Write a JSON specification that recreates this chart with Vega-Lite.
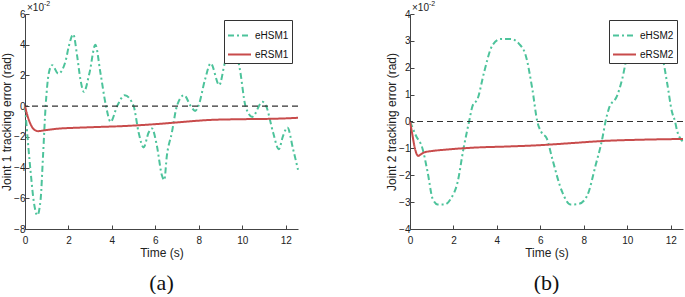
{
  "$schema": "https://vega.github.io/schema/vega-lite/v6.json",
  "padding": {"left": 0, "top": 0, "right": 0, "bottom": 0},
  "background": "white",
  "spacing": 83,
  "config": {
    "font": "Liberation Sans",
    "view": {"stroke": null},
    "axis": {
      "grid": false,
      "domainColor": "#444",
      "tickColor": "#444",
      "tickSize": -4,
      "labelFont": "Liberation Sans",
      "labelFontSize": 10,
      "labelColor": "#222",
      "labelOverlap": false,
      "labelFlush": false,
      "titleFont": "Liberation Sans",
      "titleFontSize": 12,
      "titleFontWeight": "normal",
      "titleColor": "#222"
    },
    "legend": {
      "orient": "top-right",
      "offset": 6,
      "strokeColor": "#333",
      "fillColor": "white",
      "padding": 3,
      "symbolType": "stroke",
      "symbolSize": 529,
      "symbolStrokeWidth": 2,
      "labelFont": "Liberation Sans",
      "labelFontSize": 10,
      "labelColor": "#111",
      "labelOffset": 3,
      "rowPadding": 1,
      "title": null
    },
    "title": {"font": "Liberation Serif", "fontSize": 22, "fontWeight": "normal", "color": "#111"}
  },
  "datasets": {
    "j1": [
      {"t": 0, "v": 0, "s": "eHSM1"},
      {"t": 0.06, "v": -1.06, "s": "eHSM1"},
      {"t": 0.26, "v": -4.3, "s": "eHSM1"},
      {"t": 0.41, "v": -6.27, "s": "eHSM1"},
      {"t": 0.57, "v": -7.1, "s": "eHSM1"},
      {"t": 0.72, "v": -6.05, "s": "eHSM1"},
      {"t": 0.83, "v": -3.23, "s": "eHSM1"},
      {"t": 0.95, "v": 0, "s": "eHSM1"},
      {"t": 1.1, "v": 2.18, "s": "eHSM1"},
      {"t": 1.25, "v": 2.67, "s": "eHSM1"},
      {"t": 1.53, "v": 2.12, "s": "eHSM1"},
      {"t": 1.87, "v": 2.95, "s": "eHSM1"},
      {"t": 2.02, "v": 3.92, "s": "eHSM1"},
      {"t": 2.22, "v": 4.68, "s": "eHSM1"},
      {"t": 2.4, "v": 3.27, "s": "eHSM1"},
      {"t": 2.55, "v": 1.75, "s": "eHSM1"},
      {"t": 2.71, "v": 0.93, "s": "eHSM1"},
      {"t": 2.97, "v": 2.18, "s": "eHSM1"},
      {"t": 3.24, "v": 3.99, "s": "eHSM1"},
      {"t": 3.47, "v": 2.18, "s": "eHSM1"},
      {"t": 3.73, "v": 0, "s": "eHSM1"},
      {"t": 3.94, "v": -1.02, "s": "eHSM1"},
      {"t": 4.24, "v": 0, "s": "eHSM1"},
      {"t": 4.59, "v": 0.71, "s": "eHSM1"},
      {"t": 5.0, "v": 0, "s": "eHSM1"},
      {"t": 5.23, "v": -1.72, "s": "eHSM1"},
      {"t": 5.46, "v": -2.69, "s": "eHSM1"},
      {"t": 5.69, "v": -1.72, "s": "eHSM1"},
      {"t": 5.84, "v": -1.45, "s": "eHSM1"},
      {"t": 6.07, "v": -2.58, "s": "eHSM1"},
      {"t": 6.3, "v": -4.5, "s": "eHSM1"},
      {"t": 6.41, "v": -4.81, "s": "eHSM1"},
      {"t": 6.53, "v": -3.23, "s": "eHSM1"},
      {"t": 6.76, "v": -1.72, "s": "eHSM1"},
      {"t": 6.99, "v": 0, "s": "eHSM1"},
      {"t": 7.32, "v": 0.71, "s": "eHSM1"},
      {"t": 7.63, "v": 0, "s": "eHSM1"},
      {"t": 7.83, "v": -0.31, "s": "eHSM1"},
      {"t": 7.98, "v": 0, "s": "eHSM1"},
      {"t": 8.29, "v": 1.75, "s": "eHSM1"},
      {"t": 8.55, "v": 2.79, "s": "eHSM1"},
      {"t": 8.94, "v": 1.37, "s": "eHSM1"},
      {"t": 9.2, "v": 2.83, "s": "eHSM1"},
      {"t": 9.55, "v": 4.1, "s": "eHSM1"},
      {"t": 9.89, "v": 2.4, "s": "eHSM1"},
      {"t": 10.15, "v": 0, "s": "eHSM1"},
      {"t": 10.46, "v": -0.7, "s": "eHSM1"},
      {"t": 10.93, "v": 0.28, "s": "eHSM1"},
      {"t": 11.1, "v": 0, "s": "eHSM1"},
      {"t": 11.42, "v": -1.72, "s": "eHSM1"},
      {"t": 11.68, "v": -2.8, "s": "eHSM1"},
      {"t": 11.88, "v": -1.93, "s": "eHSM1"},
      {"t": 12.08, "v": -1.39, "s": "eHSM1"},
      {"t": 12.34, "v": -2.8, "s": "eHSM1"},
      {"t": 12.566, "v": -4.14, "s": "eHSM1"},
      {"t": 0, "v": 0, "s": "eRSM1"},
      {"t": 0.1, "v": -0.55, "s": "eRSM1"},
      {"t": 0.25, "v": -1.15, "s": "eRSM1"},
      {"t": 0.4, "v": -1.5, "s": "eRSM1"},
      {"t": 0.6, "v": -1.63, "s": "eRSM1"},
      {"t": 0.9, "v": -1.57, "s": "eRSM1"},
      {"t": 1.5, "v": -1.47, "s": "eRSM1"},
      {"t": 2.5, "v": -1.4, "s": "eRSM1"},
      {"t": 3.5, "v": -1.35, "s": "eRSM1"},
      {"t": 4.5, "v": -1.3, "s": "eRSM1"},
      {"t": 5.5, "v": -1.22, "s": "eRSM1"},
      {"t": 6.5, "v": -1.12, "s": "eRSM1"},
      {"t": 7.5, "v": -1.0, "s": "eRSM1"},
      {"t": 8.5, "v": -0.9, "s": "eRSM1"},
      {"t": 9.5, "v": -0.86, "s": "eRSM1"},
      {"t": 10.5, "v": -0.84, "s": "eRSM1"},
      {"t": 11.5, "v": -0.82, "s": "eRSM1"},
      {"t": 12.566, "v": -0.76, "s": "eRSM1"}
    ],
    "j2": [
      {"t": 0, "v": 0, "s": "eHSM2"},
      {"t": 0.27, "v": -0.52, "s": "eHSM2"},
      {"t": 0.58, "v": -1.02, "s": "eHSM2"},
      {"t": 0.81, "v": -1.88, "s": "eHSM2"},
      {"t": 1.04, "v": -2.87, "s": "eHSM2"},
      {"t": 1.27, "v": -3.09, "s": "eHSM2"},
      {"t": 1.58, "v": -3.09, "s": "eHSM2"},
      {"t": 1.88, "v": -2.87, "s": "eHSM2"},
      {"t": 2.19, "v": -2.26, "s": "eHSM2"},
      {"t": 2.46, "v": -1.02, "s": "eHSM2"},
      {"t": 2.72, "v": 0, "s": "eHSM2"},
      {"t": 2.88, "v": 0.58, "s": "eHSM2"},
      {"t": 3.11, "v": 0.84, "s": "eHSM2"},
      {"t": 3.41, "v": 1.83, "s": "eHSM2"},
      {"t": 3.79, "v": 2.83, "s": "eHSM2"},
      {"t": 4.18, "v": 3.07, "s": "eHSM2"},
      {"t": 4.64, "v": 3.07, "s": "eHSM2"},
      {"t": 5.02, "v": 2.89, "s": "eHSM2"},
      {"t": 5.33, "v": 2.45, "s": "eHSM2"},
      {"t": 5.63, "v": 1.21, "s": "eHSM2"},
      {"t": 5.86, "v": 0, "s": "eHSM2"},
      {"t": 6.05, "v": -0.4, "s": "eHSM2"},
      {"t": 6.3, "v": -0.64, "s": "eHSM2"},
      {"t": 6.55, "v": -1.39, "s": "eHSM2"},
      {"t": 7.01, "v": -2.63, "s": "eHSM2"},
      {"t": 7.39, "v": -3.09, "s": "eHSM2"},
      {"t": 7.78, "v": -3.06, "s": "eHSM2"},
      {"t": 8.16, "v": -2.75, "s": "eHSM2"},
      {"t": 8.54, "v": -1.64, "s": "eHSM2"},
      {"t": 8.85, "v": -0.64, "s": "eHSM2"},
      {"t": 9.0, "v": 0, "s": "eHSM2"},
      {"t": 9.15, "v": 0.47, "s": "eHSM2"},
      {"t": 9.54, "v": 0.97, "s": "eHSM2"},
      {"t": 9.77, "v": 1.59, "s": "eHSM2"},
      {"t": 10.0, "v": 2.45, "s": "eHSM2"},
      {"t": 10.4, "v": 3.05, "s": "eHSM2"},
      {"t": 10.9, "v": 3.05, "s": "eHSM2"},
      {"t": 11.3, "v": 2.85, "s": "eHSM2"},
      {"t": 11.6, "v": 2.45, "s": "eHSM2"},
      {"t": 11.83, "v": 1.46, "s": "eHSM2"},
      {"t": 12.06, "v": 0.35, "s": "eHSM2"},
      {"t": 12.2, "v": 0, "s": "eHSM2"},
      {"t": 12.29, "v": -0.33, "s": "eHSM2"},
      {"t": 12.566, "v": -0.75, "s": "eHSM2"},
      {"t": 0, "v": 0, "s": "eRSM2"},
      {"t": 0.1, "v": -0.45, "s": "eRSM2"},
      {"t": 0.2, "v": -0.9, "s": "eRSM2"},
      {"t": 0.3, "v": -1.2, "s": "eRSM2"},
      {"t": 0.38, "v": -1.28, "s": "eRSM2"},
      {"t": 0.5, "v": -1.22, "s": "eRSM2"},
      {"t": 0.66, "v": -1.15, "s": "eRSM2"},
      {"t": 1.0, "v": -1.1, "s": "eRSM2"},
      {"t": 1.6, "v": -1.05, "s": "eRSM2"},
      {"t": 3.0, "v": -0.97, "s": "eRSM2"},
      {"t": 4.5, "v": -0.93, "s": "eRSM2"},
      {"t": 6.0, "v": -0.88, "s": "eRSM2"},
      {"t": 7.5, "v": -0.8, "s": "eRSM2"},
      {"t": 9.0, "v": -0.72, "s": "eRSM2"},
      {"t": 10.5, "v": -0.68, "s": "eRSM2"},
      {"t": 12.566, "v": -0.65, "s": "eRSM2"}
    ],
    "e1": [{"t": 0, "v": 6, "z": 0, "a": "×10", "b": "-2"}],
    "e2": [{"t": 0, "v": 4, "z": 0, "a": "×10", "b": "-2"}]
  },
  "resolve": {"scale": {"color": "independent", "strokeDash": "independent"}, "legend": {"color": "independent", "strokeDash": "independent"}},
  "hconcat": [
    {
      "width": 273,
      "height": 215,
      "title": {"text": "(a)", "orient": "bottom", "offset": 15},
      "encoding": {
        "x": {"field": "t", "type": "quantitative", "scale": {"domain": [0, 12.566], "nice": false}, "axis": {"title": "Time (s)", "values": [0, 2, 4, 6, 8, 10, 12], "labelOverlap": false, "labelPadding": 10, "titlePadding": 2}},
        "y": {"field": "v", "type": "quantitative", "scale": {"domain": [-8, 6], "nice": false}, "axis": {"title": "Joint 1 tracking error (rad)", "values": [-8, -6, -4, -2, 0, 2, 4, 6], "labelOverlap": false, "labelPadding": 4, "titlePadding": 0}}
      },
      "layer": [
        {
          "data": {"name": "j1"},
          "mark": {"type": "line", "interpolate": "monotone", "strokeWidth": 2},
          "encoding": {
            "color": {"field": "s", "type": "nominal", "scale": {"domain": ["eHSM1", "eRSM1"], "range": ["#4DC39B", "#C84B4B"]}},
            "strokeDash": {"field": "s", "type": "nominal", "scale": {"domain": ["eHSM1", "eRSM1"], "range": [[6, 3, 2, 3], [1, 0]]}}
          }
        },
        {
          "data": {"name": "e1"},
          "mark": {"type": "rule", "strokeDash": [6, 4], "color": "#333", "strokeWidth": 1.2},
          "encoding": {"x": null, "y": {"field": "z", "type": "quantitative", "axis": {"title": "Joint 1 tracking error (rad)", "values": [-8, -6, -4, -2, 0, 2, 4, 6], "labelOverlap": false, "labelPadding": 4, "titlePadding": 0}}}
        },
        {
          "data": {"name": "e1"},
          "mark": {"type": "text", "align": "left", "baseline": "alphabetic", "dx": 2, "dy": -3, "fontSize": 10, "color": "#222"},
          "encoding": {"text": {"field": "a"}}
        },
        {
          "data": {"name": "e1"},
          "mark": {"type": "text", "align": "left", "baseline": "alphabetic", "dx": 19, "dy": -8, "fontSize": 7, "color": "#222"},
          "encoding": {"text": {"field": "b"}}
        }
      ]
    },
    {
      "width": 273,
      "height": 215,
      "title": {"text": "(b)", "orient": "bottom", "offset": 15},
      "encoding": {
        "x": {"field": "t", "type": "quantitative", "scale": {"domain": [0, 12.566], "nice": false}, "axis": {"title": "Time (s)", "values": [0, 2, 4, 6, 8, 10, 12], "labelOverlap": false, "labelPadding": 10, "titlePadding": 2}},
        "y": {"field": "v", "type": "quantitative", "scale": {"domain": [-4, 4], "nice": false}, "axis": {"title": "Joint 2 tracking error (rad)", "values": [-4, -3, -2, -1, 0, 1, 2, 3, 4], "labelOverlap": false, "labelPadding": 4, "titlePadding": 0}}
      },
      "layer": [
        {
          "data": {"name": "j2"},
          "mark": {"type": "line", "interpolate": "monotone", "strokeWidth": 2},
          "encoding": {
            "color": {"field": "s", "type": "nominal", "scale": {"domain": ["eHSM2", "eRSM2"], "range": ["#4DC39B", "#C84B4B"]}},
            "strokeDash": {"field": "s", "type": "nominal", "scale": {"domain": ["eHSM2", "eRSM2"], "range": [[6, 3, 2, 3], [1, 0]]}}
          }
        },
        {
          "data": {"name": "e2"},
          "mark": {"type": "rule", "strokeDash": [6, 4], "color": "#333", "strokeWidth": 1.2},
          "encoding": {"x": null, "y": {"field": "z", "type": "quantitative", "axis": {"title": "Joint 2 tracking error (rad)", "values": [-4, -3, -2, -1, 0, 1, 2, 3, 4], "labelOverlap": false, "labelPadding": 4, "titlePadding": 0}}}
        },
        {
          "data": {"name": "e2"},
          "mark": {"type": "text", "align": "left", "baseline": "alphabetic", "dx": 2, "dy": -3, "fontSize": 10, "color": "#222"},
          "encoding": {"text": {"field": "a"}}
        },
        {
          "data": {"name": "e2"},
          "mark": {"type": "text", "align": "left", "baseline": "alphabetic", "dx": 19, "dy": -8, "fontSize": 7, "color": "#222"},
          "encoding": {"text": {"field": "b"}}
        }
      ]
    }
  ]
}
